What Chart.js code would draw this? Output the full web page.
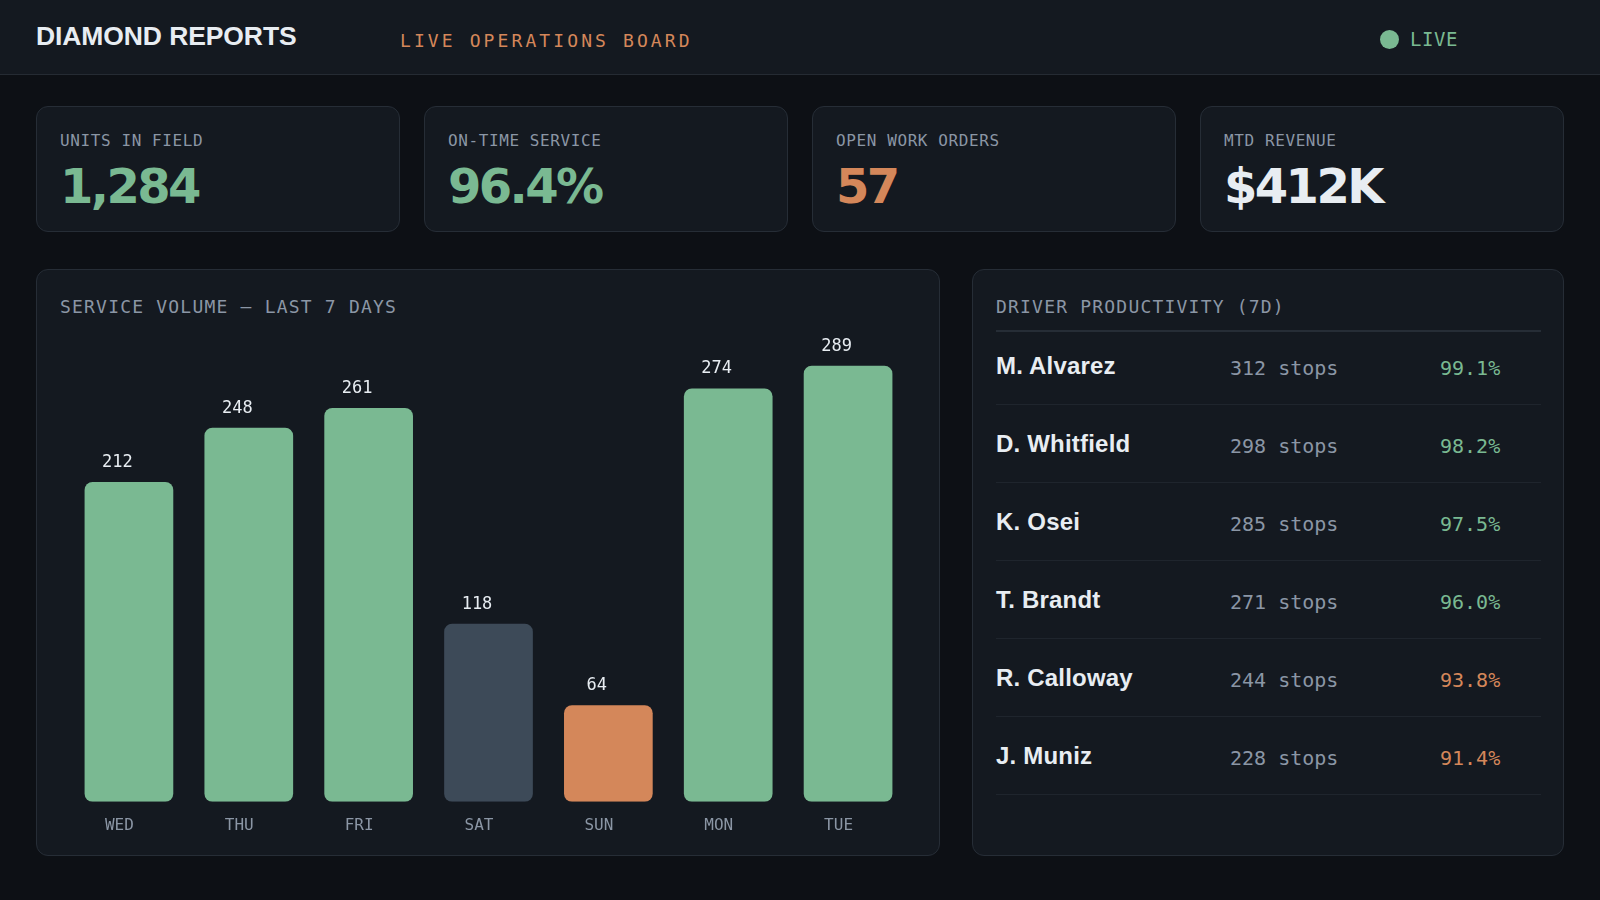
<!DOCTYPE html>
<html>
<head>
<meta charset="utf-8">
<title>Diamond Reports</title>
<script src="https://cdn.jsdelivr.net/npm/chart.js@4.4.1/dist/chart.umd.min.js"></script>
<style>
  * { box-sizing: border-box; }
  html, body { margin: 0; padding: 0; }
  body {
    width: 1600px; height: 900px; overflow: hidden;
    background: #0d1015;
    font-family: "Liberation Sans", Arial, sans-serif;
    color: #e8edf2;
  }
  .mono { font-family: "DejaVu Sans Mono", monospace; }

  header {
    position: relative;
    height: 75px;
    background: #141920;
    border-bottom: 1px solid #252b33;
  }
  .brand {
    position: absolute; left: 36px; top: 20px;
    font-size: 26.5px; font-weight: 700; letter-spacing: -0.1px;
    line-height: 32px; color: #e8edf2;
  }
  .board {
    position: absolute; left: 400px; top: 30px;
    font-size: 18px; line-height: 22px; letter-spacing: 3.1px;
    color: #d4875a;
  }
  .live {
    position: absolute; left: 1380px; top: 28px;
    display: flex; align-items: center;
    font-size: 19px; line-height: 22px; letter-spacing: 0.6px; color: #7ab992;
  }
  .live .dot {
    width: 19px; height: 19px; border-radius: 50%;
    background: #7ab992; margin-right: 11px;
  }

  main { padding: 31px 36px 0 36px; }

  .kpis {
    display: grid;
    grid-template-columns: repeat(4, 1fr);
    gap: 24px;
    height: 126px;
  }
  .card {
    background: #141920;
    border: 1px solid #262d36;
    border-radius: 12px;
    padding: 25px 23px 0 23px;
  }
  .card .label {
    font-size: 16px; line-height: 18px; letter-spacing: 0.6px;
    color: #8b96a5;
  }
  .card .value {
    margin-top: 12px;
    font-family: "DejaVu Sans", sans-serif;
    font-size: 48px; line-height: 48px; font-weight: 700;
    letter-spacing: -2.6px;
  }

  .row2 {
    display: grid;
    grid-template-columns: 1fr 592px;
    gap: 32px;
    margin-top: 37px;
    height: 587px;
  }
  .panel {
    position: relative;
    background: #141920;
    border: 1px solid #262d36;
    border-radius: 12px;
    padding: 26px 23px 24px 23px;
  }
  .panel .title {
    font-size: 18px; line-height: 22px; letter-spacing: 1.2px;
    color: #8b96a5;
  }
  .chart-wrap {
    position: absolute; left: 24px; right: 24px; top: 49px; height: 536px;
  }
  .driver { padding-left: 23px; padding-right: 22px; }
  .driver .title {
    padding-bottom: 12px;
    border-bottom: 2px solid #262d36;
  }
  .rows {
    position: absolute; left: 23px; right: 22px; top: 57px;
  }
  .drow {
    display: grid;
    grid-template-columns: 234px 210px auto;
    align-items: center;
    height: 78px;
    border-bottom: 1px solid #1f252d;
  }
  .drow .name {
    font-size: 24px; font-weight: 700; letter-spacing: 0.2px; color: #e8edf2;
  }
  .drow .stops { font-size: 20px; color: #8b96a5; margin-top: 4px; }
  .drow .pct { font-size: 20px; margin-top: 4px; }
</style>
</head>
<body>

<header>
  <div class="brand">DIAMOND REPORTS</div>
  <div class="board mono">LIVE OPERATIONS BOARD</div>
  <div class="live mono"><span class="dot"></span>LIVE</div>
</header>

<main>
  <section class="kpis" id="kpis"></section>

  <section class="row2">
    <div class="panel">
      <div class="title mono">SERVICE VOLUME — LAST 7 DAYS</div>
      <div class="chart-wrap"><canvas id="volumeChart"></canvas></div>
    </div>
    <div class="panel driver">
      <div class="title mono">DRIVER PRODUCTIVITY (7D)</div>
      <div class="rows" id="driverRows"></div>
    </div>
  </section>
</main>

<script>
// ── Data ─────────────────────────────────────────────────────
const kpiLabels = ['UNITS IN FIELD', 'ON-TIME SERVICE', 'OPEN WORK ORDERS', 'MTD REVENUE'];
const kpiValues = ['1,284', '96.4%', '57', '$412K'];

const days   = ['WED', 'THU', 'FRI', 'SAT', 'SUN', 'MON', 'TUE'];
const volume = [212, 248, 261, 118, 64, 274, 289];

const driverNames  = ['M. Alvarez', 'D. Whitfield', 'K. Osei', 'T. Brandt', 'R. Calloway', 'J. Muniz'];
const driverStops  = [312, 298, 285, 271, 244, 228];
const driverOnTime = [99.1, 98.2, 97.5, 96.0, 93.8, 91.4];

// ── Palette ──────────────────────────────────────────────────
const COLORS = {
  green:  '#7ab992',
  orange: '#d4875a',
  slate:  '#3d4a58',
  white:  '#e8edf2',
  text:   '#8b96a5',
};
const MONO = '"DejaVu Sans Mono", monospace';

const kpiColors = [COLORS.green, COLORS.green, COLORS.orange, COLORS.white];
const dayColors = [COLORS.green, COLORS.green, COLORS.green, COLORS.slate, COLORS.orange, COLORS.green, COLORS.green];

// ── KPI cards ────────────────────────────────────────────────
document.getElementById('kpis').innerHTML = kpiLabels.map((l, i) => `
  <div class="card">
    <div class="label mono">${l}</div>
    <div class="value" style="color:${kpiColors[i]}">${kpiValues[i]}</div>
  </div>`).join('');

// ── Driver table ─────────────────────────────────────────────
document.getElementById('driverRows').innerHTML = driverNames.map((n, i) => `
  <div class="drow">
    <div class="name">${n}</div>
    <div class="stops mono">${driverStops[i]} stops</div>
    <div class="pct mono" style="color:${driverOnTime[i] >= 95 ? COLORS.green : COLORS.orange}">${driverOnTime[i].toFixed(1)}%</div>
  </div>`).join('');

// ── Bar chart ────────────────────────────────────────────────
// value labels sit a little left of the bar centre, as in the board
const valueLabels = {
  id: 'valueLabels',
  afterDatasetsDraw(chart) {
    const { ctx } = chart;
    const meta = chart.getDatasetMeta(0);
    ctx.save();
    ctx.font = '17px ' + MONO;
    ctx.fillStyle = COLORS.white;
    ctx.textAlign = 'center';
    ctx.textBaseline = 'middle';
    meta.data.forEach((bar, i) => ctx.fillText(volume[i], bar.x - 11.5, bar.y - 19.5));
    ctx.restore();
  }
};

new Chart(document.getElementById('volumeChart'), {
  type: 'bar',
  data: {
    labels: days,
    datasets: [{
      data: volume,
      backgroundColor: dayColors,
      borderRadius: 8,
      borderSkipped: false,
      categoryPercentage: 1,
      barPercentage: 0.74,
    }]
  },
  options: {
    responsive: true,
    maintainAspectRatio: false,
    animation: false,
    layout: { padding: { left: 8, right: 7, top: 0, bottom: 6 } },
    plugins: { legend: { display: false }, tooltip: { enabled: false } },
    scales: {
      x: {
        grid: { display: false, drawTicks: false },
        border: { display: false },
        ticks: { color: COLORS.text, font: { family: MONO, size: 16 }, padding: 14, labelOffset: -9.5 }
      },
      y: { display: false, min: 0, max: 320 }
    }
  },
  plugins: [valueLabels]
});
</script>
</body>
</html>
